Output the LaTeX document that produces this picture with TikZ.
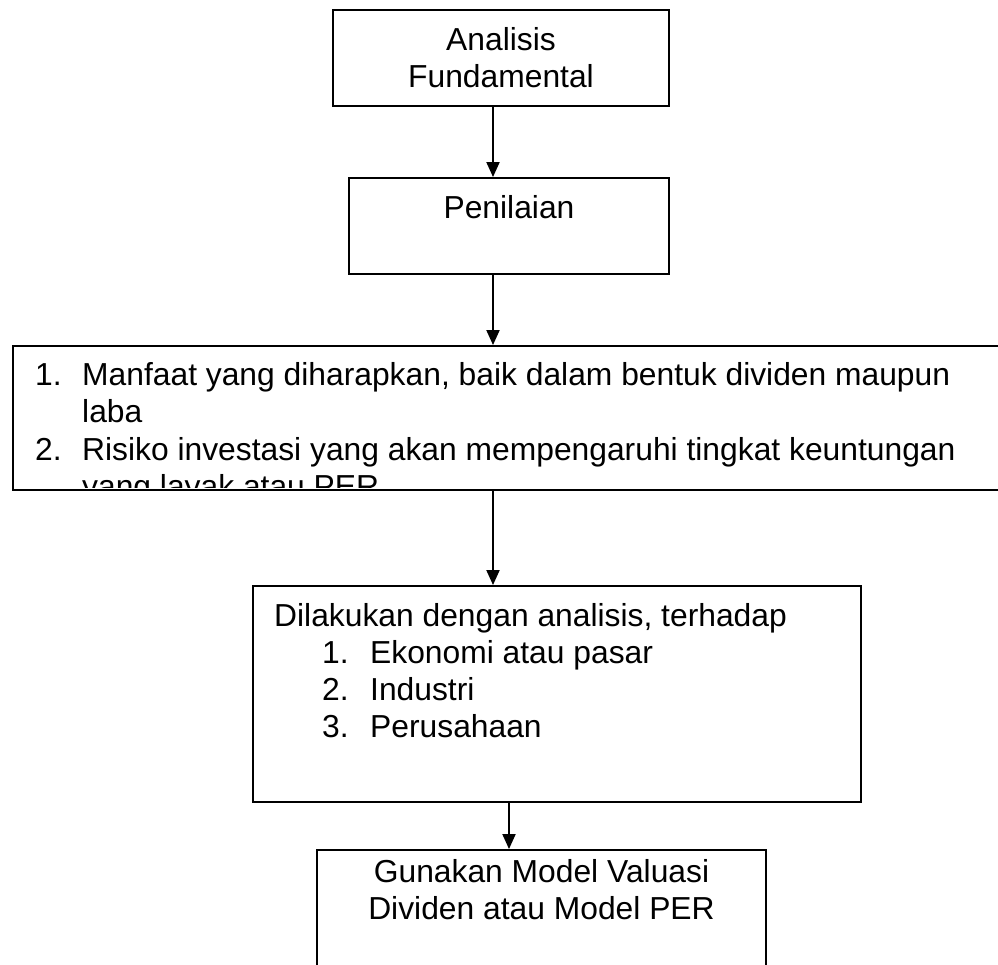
\documentclass[tikz,border=0pt]{standalone}
\usepackage{fontspec}
\setmainfont{Liberation Sans}
\usetikzlibrary{arrows.meta}
\begin{document}
\begin{tikzpicture}[x=1pt,y=-1pt,
  box/.style={draw, line width=1.9pt, rectangle, inner sep=0pt},
  txt/.style={font=\fontsize{31.8}{37.5}\selectfont, inner sep=0pt},
  arr/.style={line width=1.9pt, -{Triangle[length=15pt,width=13pt]}}]
\path[use as bounding box] (0,0) rectangle (998,964);
\clip (0,0) rectangle (998,964);
% column coordinates for connectors
\coordinate (c1) at (493,0);
\coordinate (c4) at (509,0);
% boxes
\node[box, minimum width=336pt, minimum height=96pt] (b1) at (501,58) {};
\node[box, minimum width=320pt, minimum height=96pt] (b2) at (509,226) {};
\node[box, minimum width=992pt, minimum height=144pt] (b3) at (509,418) {};
\node[box, minimum width=608pt, minimum height=216pt] (b4) at (557,694) {};
\node[box, minimum width=449pt, minimum height=150pt] (b5) at (541.5,925) {};
% box 1
\node[txt, anchor=base] (t1a) at (501,50) {Analisis};
\node[txt, anchor=base] (t1b) at (501,87) {Fundamental};
% box 2
\node[txt, anchor=base] (t2) at (509,218) {Penilaian};
% box 3
\begin{scope}
\clip (14,347) rectangle (1004,487);
\node[txt, anchor=base west] (n31) at (35,385) {1.};
\node[txt, anchor=base west] (t31) at (82,385) {Manfaat yang diharapkan, baik dalam bentuk dividen maupun};
\node[txt, anchor=base west] (t31b) at (82,422.5) {laba};
\node[txt, anchor=base west] (n32) at (35,460) {2.};
\node[txt, anchor=base west] (t32) at (82,460) {Risiko investasi yang akan mempengaruhi tingkat keuntungan};
\node[txt, anchor=base west] (t32b) at (82,497.5) {yang layak atau PER};
\end{scope}
% box 4
\node[txt, anchor=base west] (t4) at (274,626) {Dilakukan dengan analisis, terhadap};
\node[txt, anchor=base west] (n41) at (322,663) {1.};
\node[txt, anchor=base west] (t41) at (370,663) {Ekonomi atau pasar};
\node[txt, anchor=base west] (n42) at (322,700) {2.};
\node[txt, anchor=base west] (t42) at (370,700) {Industri};
\node[txt, anchor=base west] (n43) at (322,737) {3.};
\node[txt, anchor=base west] (t43) at (370,737) {Perusahaan};
% box 5
\node[txt, anchor=base] (t5a) at (541.5,882) {Gunakan Model Valuasi};
\node[txt, anchor=base] (t5b) at (541.5,919) {Dividen atau Model PER};
% connectors
\draw[arr] (b1.south -| c1) -- (b2.north -| c1);
\draw[arr] (b2.south -| c1) -- (b3.north -| c1);
\draw[arr] (b3.south -| c1) -- (b4.north -| c1);
\draw[arr] (b4.south -| c4) -- (b5.north -| c4);
\end{tikzpicture}
\end{document}
